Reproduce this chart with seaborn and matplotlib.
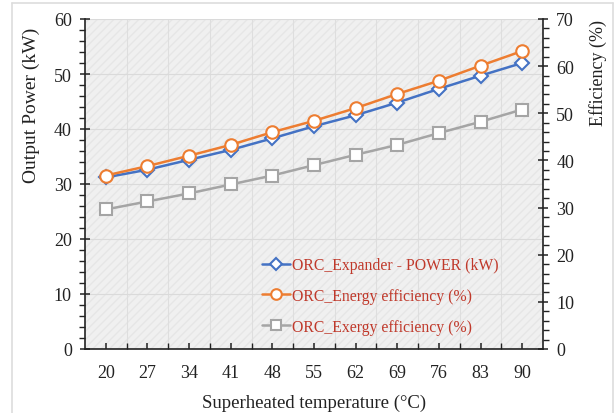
import matplotlib
matplotlib.use("Agg")
import matplotlib.pyplot as plt
import seaborn as sns
import numpy as np
from matplotlib.ticker import MultipleLocator, FixedLocator
from matplotlib.lines import Line2D

temps = [20, 27, 34, 41, 48, 55, 62, 69, 76, 83, 90]
power_kw = [31.2, 32.6, 34.4, 36.2, 38.3, 40.5, 42.5, 44.8, 47.3, 49.7, 52.0]
energy_eff = [36.8, 38.8, 41.0, 43.3, 46.0, 48.4, 51.1, 54.1, 56.9, 60.1, 63.2]
exergy_eff = [29.6, 31.3, 33.0, 34.9, 36.8, 39.0, 41.2, 43.3, 45.8, 48.2, 50.8]

labels = ["ORC_Expander - POWER (kW)", "ORC_Energy efficiency (%)", "ORC_Exergy efficiency (%)"]
c_blue, c_orange, c_gray = "#4472C4", "#ED7D31", "#A5A5A5"

sns.set_style("ticks")
plt.rcParams['font.family'] = ['Liberation Serif', 'DejaVu Serif']
plt.rcParams['mathtext.fontset'] = 'stix'

fig = plt.figure(figsize=(6.16, 4.14), dpi=100)
ax = fig.add_axes([85/616, 1-350/414, (543-85)/616, (350-20)/414])
ax2 = ax.twinx()

ax.set_facecolor("#f0f0f0")
ax.patch.set_hatch("////")
ax.patch.set_edgecolor("#e6e6e6")
ax.patch.set_linewidth(0)

sns.lineplot(x=temps, y=power_kw, ax=ax, color=c_blue, linewidth=1.8, marker="D",
             markersize=7, markerfacecolor="white", markeredgecolor=c_blue,
             markeredgewidth=1.5, label=labels[0], legend=False, zorder=4)
sns.lineplot(x=temps, y=energy_eff, ax=ax2, color=c_orange, linewidth=1.8, marker="o",
             markersize=9, markerfacecolor="white", markeredgecolor=c_orange,
             markeredgewidth=1.5, label=labels[1], legend=False, zorder=5)
sns.lineplot(x=temps, y=exergy_eff, ax=ax2, color=c_gray, linewidth=1.8, marker="s",
             markersize=9, markerfacecolor="white", markeredgecolor=c_gray,
             markeredgewidth=1.5, label=labels[2], legend=False, zorder=4)

ax.set_xlim(temps[0] - 3.5, temps[-1] + 3.5)
ax.set_ylim(0, 60)
ax2.set_ylim(0, 70)
ax.set_xticks(temps)
ax.set_xticklabels([str(t) for t in temps])
ax.xaxis.set_minor_locator(FixedLocator([t + 3.5 for t in temps[:-1]]))
ax.yaxis.set_major_locator(MultipleLocator(10))
ax.yaxis.set_minor_locator(MultipleLocator(2))
ax2.yaxis.set_major_locator(MultipleLocator(10))
ax2.yaxis.set_minor_locator(MultipleLocator(2))

ax.grid(False)
ax.yaxis.grid(True, which="major", color="#dadada", linewidth=0.8)
ax.xaxis.grid(True, which="minor", color="#dedede", linewidth=0.8)
ax.set_axisbelow(True)

for a in (ax, ax2):
    a.spines["top"].set_visible(False)
ax.spines["right"].set_visible(False)
ax2.spines["left"].set_visible(False)
ax2.spines["bottom"].set_visible(False)
for s in ("left", "bottom"):
    ax.spines[s].set_color("#222222")
    ax.spines[s].set_linewidth(1.2)
ax2.spines["right"].set_color("#222222")
ax2.spines["right"].set_linewidth(1.2)

ax.tick_params(axis="both", which="major", direction="inout", length=7, width=1.1,
               labelsize=13, colors="#222222", pad=6)
ax.tick_params(axis="both", which="minor", direction="out", length=4, width=1.0, colors="#222222")
ax.tick_params(axis="x", which="both", direction="in", length=4)
ax.tick_params(axis="x", which="major", pad=11)
ax2.tick_params(axis="y", which="major", direction="inout", length=7, width=1.1,
                labelsize=13, colors="#222222", pad=6)
ax2.tick_params(axis="y", which="minor", direction="out", length=4, width=1.0, colors="#222222")

ax.set_xlabel("Superheated temperature (°C)", fontsize=13.5, color="#222222", labelpad=9)
ax.set_ylabel("Output Power (kW)", fontsize=14, color="#222222")
ax2.set_ylabel("Efficiency (%)", fontsize=13, color="#222222")
ax.yaxis.set_label_coords((40-85)/458, (350-105)/330)
ax2.yaxis.set_label_coords((589-85)/458, (350-73)/330)

handles = [ax.get_lines()[0]] + list(ax2.get_lines()[:2])
leg = ax2.legend(handles, labels, loc="upper left", bbox_to_anchor=(262/616, 1-258/414),
                 bbox_transform=fig.transFigure, frameon=False, fontsize=11.3,
                 labelspacing=0.95, handlelength=1.8, handletextpad=0.1,
                 borderpad=0, borderaxespad=0, markerscale=0.85)
for t in leg.get_texts():
    t.set_color("#c0392b")

# outer frame
fig.add_artist(Line2D([12/616, 12/616], [0, 1-4/414], transform=fig.transFigure, color="#dddddd", lw=1.2))
fig.add_artist(Line2D([12/616, 613/616], [1-4/414, 1-4/414], transform=fig.transFigure, color="#dddddd", lw=1.2))
fig.add_artist(Line2D([613/616, 613/616], [0, 1-4/414], transform=fig.transFigure, color="#dddddd", lw=1.2))

fig.savefig("out.png", dpi=100)
